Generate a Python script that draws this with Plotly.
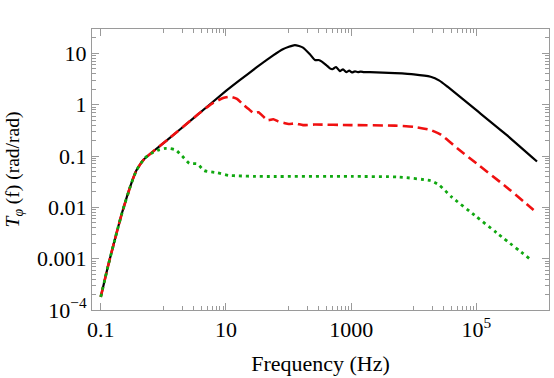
import plotly.graph_objects as go

# ---- data (frequency in Hz, T_phi in rad/rad) ----
black_freq = [0.1, 0.13, 0.167, 0.22, 0.307, 0.37, 0.44, 0.5, 0.7, 1.24, 3, 10, 16.6, 30.7, 56,
              81, 126, 170, 219, 264, 300, 340, 400, 457, 500, 575, 660, 740, 835, 930, 1030,
              1150, 1280, 1420, 1600, 2000, 5000, 1e4, 1.86e4, 2.57e4, 3.46e4, 1e5, 3e5, 9.3e5]
black_tphi = [1.8e-4, 7e-4, 2.3e-3, 8e-3, 0.029, 0.052, 0.073, 0.088, 0.125, 0.22, 0.54, 1.85, 3.0, 5.3, 9.0,
              12.0, 14.5, 12.9, 9.6, 7.4, 7.4, 6.9, 5.9, 5.1, 4.9, 5.4, 4.5, 4.9, 4.3, 4.6, 4.25,
              4.45, 4.3, 4.4, 4.3, 4.3, 4.1, 3.9, 3.5, 2.94, 2.24, 0.78, 0.26, 0.078]

red_freq = [0.1, 0.13, 0.167, 0.22, 0.307, 0.37, 0.44, 0.5, 0.7, 1.24, 3.7, 6, 9, 11.8, 15,
            18, 23, 28, 33, 46, 57, 69, 85, 100, 130, 170, 260, 1000, 5000, 1e4, 1.86e4,
            2.7e4, 5e4, 1e5, 3e5, 8.2e5]
red_tphi = [1.8e-4, 7e-4, 2.3e-3, 8e-3, 0.029, 0.052, 0.073, 0.088, 0.125, 0.22, 0.67, 1.05, 1.35, 1.43, 1.3,
            1.06, 0.82, 0.68, 0.71, 0.5, 0.52, 0.47, 0.44, 0.42, 0.43, 0.40, 0.41, 0.40, 0.39, 0.37, 0.32,
            0.26, 0.14, 0.072, 0.025, 0.0089]

green_freq = [0.1, 0.13, 0.167, 0.22, 0.307, 0.37, 0.44, 0.5, 0.67, 0.85, 1.1, 1.3, 1.58, 2.0, 2.6,
              3.5, 4.5, 7.3, 11, 16, 30, 1000, 5600, 1.86e4, 2.57e4, 4e4, 1e5, 2.1e5, 7.8e5]
green_tphi = [1.8e-4, 7e-4, 2.3e-3, 8e-3, 0.029, 0.052, 0.073, 0.09, 0.116, 0.132, 0.141, 0.14, 0.131, 0.1, 0.072,
              0.070, 0.052, 0.047, 0.042, 0.041, 0.040, 0.040, 0.039, 0.033, 0.027, 0.016, 0.0066, 0.0032, 0.00091]

x_major = [0.1, 10, 1000, 1e5]
x_major_text = ["0.1", "10", "1000", "10<sup>5</sup>"]
x_minor = [m * d for d in (1, 100, 10000) for m in range(1, 10)]

y_major = [1e-4, 1e-3, 1e-2, 1e-1, 1, 10]
y_major_text = ["10<sup>\u22124</sup>", "0.001", "0.01", "0.1", "1", "10"]
y_minor = [m * 10.0 ** e for e in range(-4, 2) for m in range(2, 10)]

FONT = "Liberation Serif"
FRAME = "#9a9a9a"
FS = 22

fig = go.Figure()
fig.add_trace(go.Scatter(x=black_freq, y=black_tphi, mode="lines",
                         line=dict(color="black", width=2.2, shape="spline", smoothing=0.5)))
fig.add_trace(go.Scatter(x=red_freq, y=red_tphi, mode="lines",
                         line=dict(color="#f01010", width=2.6, dash="10px,5px", shape="spline", smoothing=0.5)))
fig.add_trace(go.Scatter(x=green_freq, y=green_tphi, mode="lines",
                         line=dict(color="#10a810", width=2.8, dash="3px,4px", shape="spline", smoothing=0.5)))

axis_common = dict(type="log", showgrid=False, zeroline=False, showline=True, linecolor=FRAME,
                   linewidth=1, mirror="allticks", ticks="inside", tickcolor=FRAME, ticklen=7,
                   tickwidth=1, tickfont=dict(family=FONT, size=FS, color="black"),
                   tickmode="array", automargin=False)

fig.update_xaxes(**axis_common, range=[-1.14, 6.16], tickvals=x_major, ticktext=x_major_text,
                 minor=dict(tickmode="array", tickvals=x_minor, ticks="inside", ticklen=4,
                            tickcolor=FRAME, showgrid=False),
                 title=dict(text="Frequency (Hz)", font=dict(family=FONT, size=FS, color="black"),
                            standoff=14))
fig.update_yaxes(**axis_common, range=[-4, 1.474], tickvals=y_major, ticktext=y_major_text,
                 minor=dict(tickmode="array", tickvals=y_minor, ticks="inside", ticklen=4,
                            tickcolor=FRAME, showgrid=False),
                 title=dict(text="<i>T</i><sub><i>\u03c6</i></sub> (f) (rad/rad)",
                            font=dict(family=FONT, size=19.5, color="black"), standoff=12))

fig.update_layout(width=554, height=378, margin=dict(l=92, r=5, t=29, b=68),
                  paper_bgcolor="white", plot_bgcolor="white", showlegend=False)

fig.write_html("out.html", config={"displayModeBar": False, "staticPlot": True},
               post_script="document.body.style.margin='0';document.body.style.overflow='hidden';")
